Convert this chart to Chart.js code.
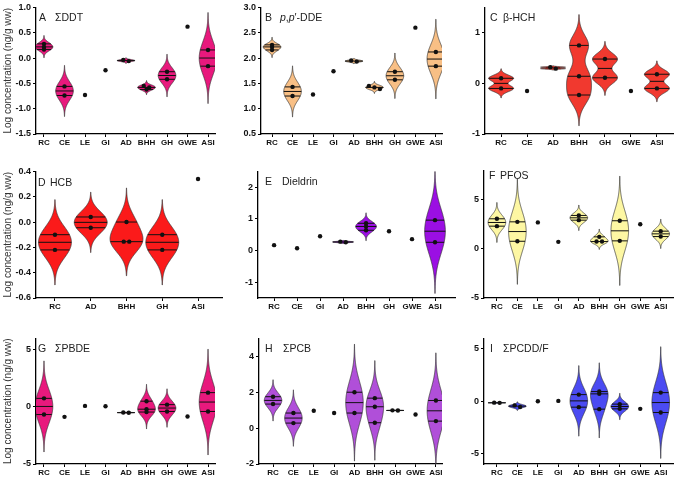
<!DOCTYPE html>
<html lang="en">
<head>
<meta charset="UTF-8">
<title>Log concentration violins</title>
<script src="https://cdn.jsdelivr.net/npm/chart.js"></script>
<style>
  body { margin: 0; background: #fff; }
  #wrap { position: relative; width: 676px; height: 478px; overflow: hidden; }
  #wrap canvas { position: absolute; }
</style>
</head>
<body>
<div id="wrap"></div>
<script>
// site groups
const cats9 = ['RC', 'CE', 'LE', 'GI', 'AD', 'BHH', 'GH', 'GWE', 'ASI'];
const cats7 = ['RC', 'CE', 'AD', 'BHH', 'GH', 'GWE', 'ASI'];
const cats5 = ['RC', 'AD', 'BHH', 'GH', 'ASI'];
const cats8 = ['RC', 'CE', 'GI', 'AD', 'BHH', 'GH', 'GWE', 'ASI'];

// log concentrations (ng/g ww), one list per site
const ddt = [[0.28, 0.22, 0.17], [-0.56, -0.74], [-0.73], [-0.24], [-0.04, -0.06], [-0.55, -0.58, -0.62], [-0.27, -0.42], [0.62], [0.16, -0.16]];
const dde = [[2.26, 2.22, 2.16], [1.43, 1.25], [1.28], [1.74], [1.95, 1.93], [1.45, 1.42, 1.39], [1.73, 1.57], [2.60], [2.12, 1.84]];
const hch = [[0.10, -0.10], [-0.15], [0.32, 0.29], [0.75, 0.14, -0.23], [0.48, 0.11], [-0.15], [0.18, -0.10]];
const hcb = [[-0.10, -0.22], [0.04, -0.045], [0.0, -0.155, -0.155], [-0.10, -0.22], [0.34]];
const dieldrin = [[0.17], [0.07], [0.45], [0.28, 0.26], [0.86, 0.76, 0.64], [0.61], [0.36], [0.96, 0.26]];
const pfos = [[3.07, 2.32], [2.76, 0.78], [2.70], [0.72], [3.41, 2.93], [1.23, 0.75, 0.75], [2.87, 0.82], [2.52], [1.81, 1.26]];
const pbde = [[0.75, -0.67], [-0.87], [0.09], [0.06], [-0.49, -0.51], [0.5, -0.2, -0.45], [0.2, -0.4], [-0.84], [1.25, -0.4]];
const pcb = [[1.75, 1.34], [0.84, 0.28], [0.97], [0.84], [2.0, 0.84], [1.67, 1.19, 0.30], [0.99, 0.98], [0.76], [1.54, 0.39]];
const pcdd = [[-0.14, -0.16], [-0.40, -0.55], [0.0], [0.03], [0.63, -0.57], [0.92, 0.70, -0.76], [-0.28, -0.73], [-0.73], [0.82, -1.08]];

// y tick labels
const ticksA = ['1.0', '0.5', '0.0', '-0.5', '-1.0', '-1.5'];
const ticksB = ['3.0', '2.5', '2.0', '1.5', '1.0', '0.5'];
const ticksC = ['1', '0', '-1'];
const ticksD = ['0.4', '0.2', '0.0', '-0.2', '-0.4', '-0.6'];
const ticksE = ['2', '1', '0', '-1'];
const ticks5 = ['5', '0', '-5'];
const ticksH = ['4', '2', '0', '-2'];

const FONT = "'Liberation Sans', Arial, Helvetica, sans-serif";
const YTITLE = 'Log concentration (ng/g ww)';

const panels = [
  { letter: 'A', name: 'ΣDDT', cats: cats9, values: ddt, ticks: ticksA, color: '#E8197D',
    col: 0, L: 36, T: 7, B: 134, R: 215, xmin: -0.39, xmax: 8.34, ymin: -1.5, ymax: 1.0, bw: 1.25, half: 0.43, lab: [3, 19, 11] },
  { letter: 'B', name: '_p_,_p_′-DDE', cats: cats9, values: dde, ticks: ticksB, color: '#F8BF85',
    col: 1, L: 261, T: 7, B: 134, R: 442, xmin: -0.54, xmax: 8.3, ymin: 0.5, ymax: 3.0, bw: 1.25, half: 0.43, lab: [4, 19, 11] },
  { letter: 'C', name: 'β-HCH', cats: cats7, values: hch, ticks: ticksC, color: '#F1392F',
    col: 2, L: 485, T: 7, B: 134, R: 673, xmin: -0.62, xmax: 6.62, ymin: -1, ymax: 1.5, bw: 0.51, half: 0.48, lab: [5, 18, 11] },
  { letter: 'D', name: 'HCB', cats: cats5, values: hcb, ticks: ticksD, color: '#FB1A1A',
    col: 0, L: 36, T: 171, B: 298, R: 222, xmin: -0.53, xmax: 4.67, ymin: -0.6, ymax: 0.4, bw: 1.25, half: 0.46, lab: [2, 14, 12] },
  { letter: 'E', name: 'Dieldrin', cats: cats8, values: dieldrin, ticks: ticksE, color: '#9B0FE3',
    col: 1, L: 258, T: 171, B: 298, R: 455, xmin: -0.7, xmax: 7.87, ymin: -1.5, ymax: 2.5, bw: 1.25, half: 0.45, lab: [7, 24, 11] },
  { letter: 'F', name: 'PFOS', cats: cats9, values: pfos, ticks: ticks5, color: '#FDF7A3',
    col: 2, L: 484, T: 170, B: 298, R: 673, xmin: -0.63, xmax: 8.6, ymin: -5, ymax: 8, bw: 1.2, half: 0.43, lab: [5, 16, 6] },
  { letter: 'G', name: 'ΣPBDE', cats: cats9, values: pbde, ticks: ticks5, color: '#E8197D',
    col: 0, L: 36, T: 338, B: 464, R: 215, xmin: -0.39, xmax: 8.34, ymin: -5, ymax: 6, bw: 1.25, half: 0.43, lab: [2, 19, 11] },
  { letter: 'H', name: 'ΣPCB', cats: cats9, values: pcb, ticks: ticksH, color: '#B04FD9',
    col: 1, L: 259, T: 338, B: 464, R: 442, xmin: -0.69, xmax: 8.3, ymin: -2, ymax: 5, bw: 1.25, half: 0.43, lab: [6, 24, 11] },
  { letter: 'I', name: 'ΣPCDD/F', cats: cats9, values: pcdd, ticks: ticks5, color: '#4B4BF2',
    col: 2, L: 484, T: 338, B: 464, R: 673, xmin: -0.63, xmax: 8.6, ymin: -6, ymax: 6, bw: 1.25, half: 0.43, lab: [6, 19, 11] }
];
const colLeft = [0, 226, 452];

// gaussian kernel density, silverman-type bandwidth, tails to 3h
function kde(vals, base) {
  const n = vals.length;
  const mean = vals.reduce((a, b) => a + b, 0) / n;
  const sd = Math.sqrt(vals.reduce((a, b) => a + (b - mean) ** 2, 0) / (n - 1)) || 0.001;
  const h = base * sd * Math.pow(n, -0.2);
  const dens = y => vals.reduce((a, v) => a + Math.exp(-0.5 * ((y - v) / h) ** 2), 0);
  const lo = Math.min(...vals) - 3 * h, hi = Math.max(...vals) + 3 * h;
  const ys = [], ds = [];
  for (let k = 0; k <= 160; k++) {
    const y = lo + (hi - lo) * k / 160;
    ys.push(y); ds.push(dens(y));
  }
  const dmax = Math.max(...ds);
  return { ys, ws: ds.map(d => d / dmax), at: y => dens(y) / dmax };
}

// prism style quartiles
function quartiles(vals) {
  const s = [...vals].sort((a, b) => a - b), n = s.length;
  const q = p => {
    const pos = p * (n + 1);
    if (pos <= 1) return s[0];
    if (pos >= n) return s[n - 1];
    const f = Math.floor(pos);
    return s[f - 1] + (pos - f) * (s[f] - s[f - 1]);
  };
  return [q(0.25), q(0.5), q(0.75)];
}

// dots that would overlap are set side by side
function dotData(p) {
  const pxX = (p.R - p.L) / (p.xmax - p.xmin);
  const pxY = (p.B - p.T) / (p.ymax - p.ymin);
  const out = [];
  p.values.forEach((vals, i) => {
    const s = [...vals].sort((a, b) => b - a);
    let cl = [];
    const flush = () => {
      cl.forEach((v, j) => out.push({ x: i + (j - (cl.length - 1) / 2) * 5.5 / pxX, y: v }));
      cl = [];
    };
    s.forEach(v => {
      if (cl.length && (cl[cl.length - 1] - v) * pxY >= 1.8) flush();
      cl.push(v);
    });
    flush();
  });
  return out;
}

function drawName(ctx, text, x, y) {
  text.split('_').forEach((part, k) => {
    if (!part) return;
    ctx.font = (k % 2 ? 'italic ' : '') + '10.5px ' + FONT;
    ctx.fillText(part, x, y);
    x += ctx.measureText(part).width;
  });
}

function makeViolins(p) {
  return {
    id: 'violins' + p.letter,
    beforeDatasetsDraw(chart) {
      const { ctx, chartArea: a, scales: { x, y } } = chart;
      ctx.save();
      ctx.beginPath();
      ctx.rect(a.left, a.top, a.right - a.left, a.bottom - a.top);
      ctx.clip();
      p.values.forEach((vals, i) => {
        if (vals.length < 2) return;
        const k = kde(vals, p.bw);
        ctx.beginPath();
        k.ys.forEach((yy, j) => {
          const px = x.getPixelForValue(i + p.half * k.ws[j]), py = y.getPixelForValue(yy);
          j ? ctx.lineTo(px, py) : ctx.moveTo(px, py);
        });
        for (let j = k.ys.length - 1; j >= 0; j--) {
          ctx.lineTo(x.getPixelForValue(i - p.half * k.ws[j]), y.getPixelForValue(k.ys[j]));
        }
        ctx.closePath();
        ctx.fillStyle = p.color;
        ctx.fill();
        ctx.strokeStyle = '#333';
        ctx.lineWidth = 0.7;
        ctx.stroke();
        // median, then quartiles unless they sit on top of it
        ctx.strokeStyle = '#111';
        ctx.lineWidth = 1;
        const [q1, med, q3] = quartiles(vals);
        const pm = y.getPixelForValue(med);
        [med, q1, q3].forEach((q, n) => {
          const py = y.getPixelForValue(q);
          if (n && Math.abs(py - pm) < 2) return;
          const w = p.half * k.at(q);
          ctx.beginPath();
          ctx.moveTo(x.getPixelForValue(i - w), py);
          ctx.lineTo(x.getPixelForValue(i + w), py);
          ctx.stroke();
        });
      });
      ctx.restore();
    },
    afterDraw(chart) {
      const { ctx, chartArea: a } = chart;
      ctx.save();
      ctx.fillStyle = '#222';
      ctx.textBaseline = 'middle';
      ctx.font = '10.5px ' + FONT;
      ctx.fillText(p.letter, a.left + p.lab[0], a.top + p.lab[2]);
      drawName(ctx, p.name, a.left + p.lab[1], a.top + p.lab[2]);
      ctx.restore();
    }
  };
}

const wrap = document.getElementById('wrap');
panels.forEach(p => {
  const left = colLeft[p.col];
  const yw = p.L - left;
  const cv = document.createElement('canvas');
  cv.width = p.R - left + 3;
  cv.height = p.B - p.T + 7 + 16;
  cv.style.left = left + 'px';
  cv.style.top = (p.T - 7) + 'px';
  wrap.appendChild(cv);

  new Chart(cv, {
    type: 'scatter',
    data: {
      datasets: [{
        data: dotData(p),
        pointRadius: 2.2,
        pointHoverRadius: 2.2,
        backgroundColor: '#111',
        borderWidth: 0
      }]
    },
    options: {
      responsive: false,
      animation: false,
      devicePixelRatio: 1,
      events: [],
      layout: { padding: { top: 7, right: 3, left: 0, bottom: 0 } },
      plugins: { legend: { display: false }, tooltip: { enabled: false } },
      scales: {
        x: {
          type: 'linear',
          min: p.xmin,
          max: p.xmax,
          afterBuildTicks: s => { s.ticks = p.cats.map((c, i) => ({ value: i })); },
          afterFit: s => { s.height = 16; },
          ticks: {
            callback: v => p.cats[Math.round(v)],
            autoSkip: false,
            maxRotation: 0,
            padding: 1,
            color: '#111',
            font: { family: FONT, size: 8, weight: 'bold' }
          },
          grid: { drawOnChartArea: false, drawTicks: true, tickLength: 3, color: '#000', lineWidth: 1 },
          border: { display: true, color: '#000', width: 1.3 }
        },
        y: {
          type: 'linear',
          min: p.ymin,
          max: p.ymax,
          afterBuildTicks: s => { s.ticks = p.ticks.map(t => ({ value: Number(t) })); },
          afterFit: s => { s.width = yw; },
          ticks: {
            callback: v => p.ticks.find(t => Number(t) === v),
            padding: 2,
            color: '#111',
            font: { family: FONT, size: 9, weight: 'bold' }
          },
          grid: { drawOnChartArea: false, drawTicks: true, tickLength: 3, color: '#000', lineWidth: 1 },
          border: { display: true, color: '#000', width: 1.3 },
          title: {
            display: p.col === 0,
            text: YTITLE,
            color: '#333',
            font: { family: FONT, size: 10 },
            padding: { top: 2, bottom: 0 }
          }
        }
      }
    },
    plugins: [makeViolins(p)]
  });
});
</script>
</body>
</html>
